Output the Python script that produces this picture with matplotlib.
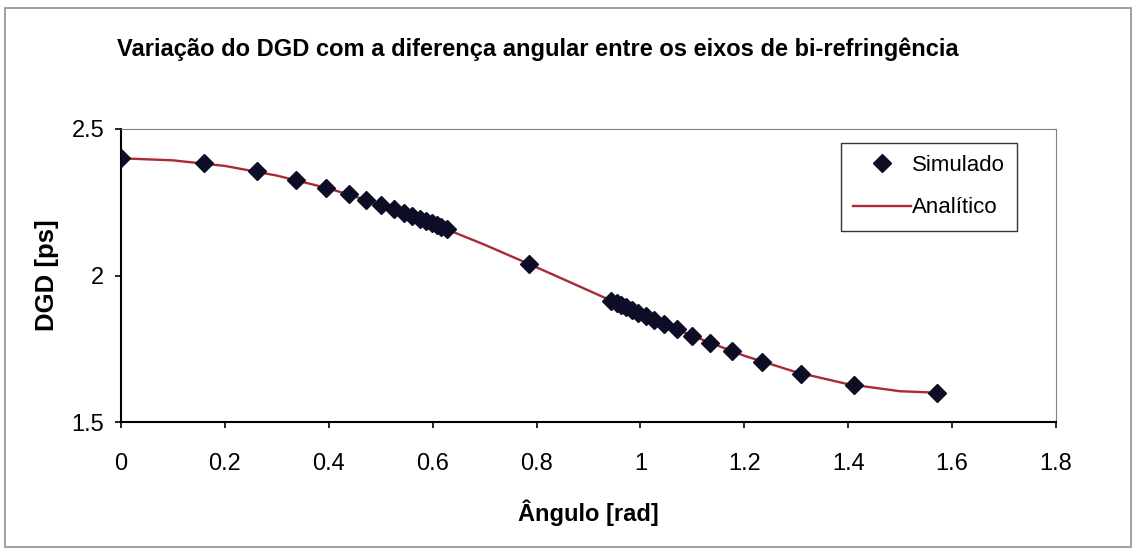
import matplotlib
matplotlib.use('Agg')
import matplotlib.pyplot as plt
from matplotlib.patches import Rectangle

# simulated points (angle in rad, DGD in ps)
sim_angle = [0.0, 0.159, 0.261, 0.337, 0.395, 0.438, 0.471, 0.501, 0.525, 0.544,
             0.560, 0.575, 0.587, 0.598, 0.608, 0.617, 0.627, 0.785,
             0.944, 0.954, 0.963, 0.973, 0.984, 0.996, 1.011, 1.027, 1.046,
             1.070, 1.100, 1.133, 1.176, 1.234, 1.310, 1.412, 1.571]
sim_dgd = [2.400, 2.383, 2.355, 2.326, 2.299, 2.277, 2.259, 2.241, 2.226, 2.214,
           2.204, 2.194, 2.186, 2.179, 2.172, 2.166, 2.159, 2.040,
           1.913, 1.905, 1.898, 1.891, 1.882, 1.873, 1.861, 1.849, 1.834,
           1.816, 1.794, 1.771, 1.742, 1.706, 1.665, 1.625, 1.600]

# analytic curve
ana_angle = [0.0, 0.1, 0.2, 0.3, 0.4, 0.5, 0.6, 0.7, 0.8, 0.9, 1.0,
             1.1, 1.2, 1.3, 1.4, 1.5, 1.5708]
ana_dgd = [2.400, 2.393, 2.374, 2.341, 2.297, 2.242, 2.177, 2.105, 2.028, 1.949,
           1.869, 1.794, 1.726, 1.670, 1.629, 1.605, 1.600]

x_ticks = [0, 0.2, 0.4, 0.6, 0.8, 1, 1.2, 1.4, 1.6, 1.8]
x_labels = ['0', '0.2', '0.4', '0.6', '0.8', '1', '1.2', '1.4', '1.6', '1.8']
y_ticks = [1.5, 2, 2.5]
y_labels = ['1.5', '2', '2.5']

plt.rcParams['font.family'] = ['Liberation Sans', 'DejaVu Sans']

fig = plt.figure(figsize=(11.36, 5.51), dpi=100)
ax = fig.add_axes([0.1065, 0.2341, 0.8231, 0.5318])

ax.plot(ana_angle, ana_dgd, color='#a82a35', lw=1.7, label='Analítico', zorder=2)
ax.plot(sim_angle, sim_dgd, linestyle='none', marker='D', markersize=9.5,
        color='#0d0d26', label='Simulado', zorder=3)

ax.set_xlim(0, 1.8)
ax.set_ylim(1.5, 2.5)
ax.set_xticks(x_ticks)
ax.set_xticklabels(x_labels)
ax.set_yticks(y_ticks)
ax.set_yticklabels(y_labels)
ax.tick_params(axis='both', direction='out', length=4, width=1.2, labelsize=17, color='black')
ax.tick_params(axis='x', pad=18)
ax.tick_params(axis='y', pad=8)

ax.spines['left'].set_color('black')
ax.spines['left'].set_linewidth(1.5)
ax.spines['bottom'].set_color('black')
ax.spines['bottom'].set_linewidth(1.5)
ax.spines['top'].set_color('#808080')
ax.spines['right'].set_color('#808080')

ax.set_xlabel('Ângulo [rad]', fontsize=17, fontweight='bold', labelpad=18)
ax.set_ylabel('DGD [ps]', fontsize=18.5, fontweight='bold', labelpad=9)

fig.text(0.103, 0.91, 'Variação do DGD com a diferença angular entre os eixos de bi-refringência',
         fontsize=17, fontweight='bold', ha='left', va='center')

handles, labels = ax.get_legend_handles_labels()
leg = ax.legend(handles[::-1], labels[::-1], loc='upper right',
                bbox_to_anchor=(0.958, 0.952), fontsize=16, frameon=True,
                fancybox=False, edgecolor='black', handlelength=2.6,
                handletextpad=0.05, borderpad=0.55, labelspacing=0.95,
                borderaxespad=0)
leg.get_frame().set_linewidth(1.0)

fig.patches.append(Rectangle((0.004, 0.008), 0.992, 0.978, transform=fig.transFigure,
                             fill=False, edgecolor='#909090', lw=1.2))

fig.savefig('out.png', dpi=100)
